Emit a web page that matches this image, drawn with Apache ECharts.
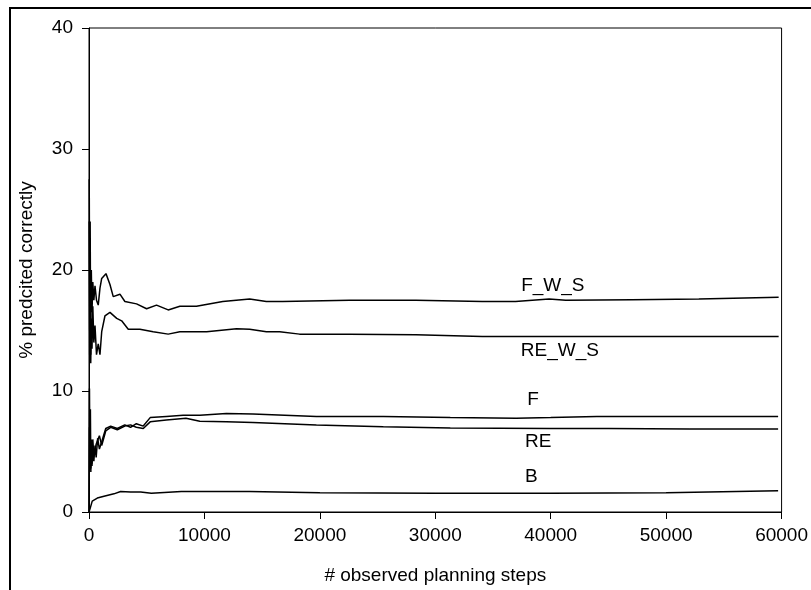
<!DOCTYPE html>
<html>
<head>
<meta charset="utf-8">
<script src="https://cdn.jsdelivr.net/npm/echarts@6/dist/echarts.min.js"></script>
<style>
  html, body { margin: 0; padding: 0; background: #ffffff; }
  #chart { width: 811px; height: 590px; }
</style>
</head>
<body>
<div id="chart"></div>
<script>
// Prediction accuracy (%) against number of observed planning steps, one run per strategy.
const fwsCurve = [
  [20, 27.5], [60, 15], [100, 24], [150, 13], [200, 20], [260, 16.5], [330, 19], [420, 17.5],
  [520, 18.7], [650, 17.5], [800, 17.1], [950, 18.5], [1100, 19.3], [1470, 19.7], [1816, 18.8],
  [2100, 17.8], [2680, 18.0], [3110, 17.4], [4120, 17.2], [4990, 16.8], [5850, 17.1], [6860, 16.7],
  [7870, 17.0], [9310, 17.0], [11590, 17.4], [13920, 17.6], [15360, 17.4], [16770, 17.4],
  [22570, 17.5], [28330, 17.5], [34070, 17.4], [36950, 17.4], [39860, 17.6], [41300, 17.5],
  [47040, 17.55], [52830, 17.6], [59745, 17.75]
];
const rewsCurve = [
  [20, 24], [60, 13], [100, 19], [150, 12.3], [200, 16], [260, 13.5], [330, 17], [420, 14],
  [520, 15.4], [650, 13], [800, 13.9], [950, 13], [1100, 14.9], [1380, 16.2], [1816, 16.5],
  [2400, 16.0], [2830, 15.8], [3400, 15.1], [4410, 15.1], [5560, 14.9], [6860, 14.7], [7870, 14.9],
  [10190, 14.9], [12780, 15.15], [13920, 15.1], [15370, 14.9], [16520, 14.9], [18240, 14.7],
  [22570, 14.7], [28330, 14.65], [34070, 14.5], [39860, 14.5], [50000, 14.5], [59745, 14.5]
];
const fCurve = [
  [10, 0], [40, 10.2], [80, 3.5], [120, 6], [160, 3.6], [200, 5], [260, 4], [330, 5.3], [420, 4.2],
  [520, 5.5], [620, 4.5], [750, 6.1], [900, 5.2], [1100, 5.8], [1450, 6.9], [1880, 7.1], [2450, 6.9],
  [3100, 7.2], [3600, 7.0], [4100, 7.3], [4700, 7.1], [5300, 7.8], [6700, 7.9], [8150, 8.0],
  [9600, 8.0], [11900, 8.15], [14200, 8.1], [19700, 7.9], [25500, 7.9], [31300, 7.8], [37000, 7.75],
  [40000, 7.8], [44000, 7.9], [52000, 7.9], [59700, 7.9]
];
const reCurve = [
  [10, 0], [40, 7], [80, 4], [120, 8.5], [160, 3.3], [200, 6], [260, 3.8], [330, 6], [420, 4.6],
  [520, 5], [620, 5.6], [750, 5.5], [900, 6.3], [1100, 5.5], [1450, 6.7], [1880, 7.0], [2450, 6.8],
  [3100, 7.1], [3600, 7.2], [4100, 7.0], [4700, 6.9], [5300, 7.45], [6700, 7.6], [8400, 7.75],
  [9600, 7.5], [11900, 7.45], [14200, 7.4], [19700, 7.2], [25500, 7.05], [31300, 6.95],
  [39900, 6.9], [45000, 6.9], [52000, 6.85], [59700, 6.85]
];
const bCurve = [
  [0, 0], [100, 0.3], [280, 0.9], [720, 1.15], [1300, 1.3], [2160, 1.5], [2740, 1.7], [3600, 1.65],
  [4480, 1.65], [5400, 1.55], [8000, 1.7], [13900, 1.7], [20000, 1.6], [30000, 1.55], [40000, 1.55],
  [50000, 1.6], [59700, 1.75]
];

const seriesNames = ['F_W_S', 'RE_W_S', 'F', 'RE', 'B'];
const seriesCurves = [fwsCurve, rewsCurve, fCurve, reCurve, bCurve];
// Where each curve's name is written (steps, percent at the text's left middle)
const labelAnchors = [[37440, 18.7], [37410, 13.36], [37960, 9.24], [37780, 5.82], [37780, 2.94]];

const xTicks = [0, 10000, 20000, 30000, 40000, 50000, 60000];
const yTicks = [0, 10, 20, 30, 40];

const FONT = 'Liberation Sans, Arial, sans-serif';
const FS = 19;
const chart = echarts.init(document.getElementById('chart'), null, { renderer: 'canvas' });

const series = seriesNames.map((name, i) => ({
  name: name,
  type: 'line',
  data: seriesCurves[i],
  showSymbol: false,
  symbol: 'none',
  smooth: false,
  animation: false,
  lineStyle: { color: '#000', width: 1.5 },
  markPoint: {
    symbol: 'circle',
    symbolSize: 0,
    animation: false,
    data: [{
      coord: labelAnchors[i],
      label: {
        show: true,
        formatter: name,
        position: 'right',
        distance: 0,
        color: '#000',
        fontFamily: FONT,
        fontSize: FS
      }
    }]
  }
}));

chart.setOption({
  backgroundColor: '#ffffff',
  animation: false,
  grid: {
    left: 89, top: 28, right: 27, bottom: 76,
    show: true, borderColor: '#000', borderWidth: 1, backgroundColor: 'transparent'
  },
  xAxis: {
    type: 'value',
    min: xTicks[0], max: xTicks[xTicks.length - 1], interval: 10000,
    name: '# observed planning steps',
    nameLocation: 'middle',
    nameGap: 54,
    nameTextStyle: { color: '#000', fontFamily: FONT, fontSize: FS },
    axisLine: { lineStyle: { color: '#000', width: 1 } },
    axisTick: { show: true, length: 7, inside: false, lineStyle: { color: '#000' } },
    axisLabel: { color: '#000', fontFamily: FONT, fontSize: FS, margin: 14, formatter: v => String(v) },
    splitLine: { show: false }
  },
  yAxis: {
    type: 'value',
    min: yTicks[0], max: yTicks[yTicks.length - 1], interval: 10,
    name: '% predcited correctly',
    nameLocation: 'middle',
    nameGap: 53,
    nameRotate: 90,
    nameTextStyle: { color: '#000', fontFamily: FONT, fontSize: FS },
    axisLine: { show: true, lineStyle: { color: '#000', width: 1 } },
    axisTick: { show: true, length: 7, inside: false, lineStyle: { color: '#000' } },
    axisLabel: { color: '#000', fontFamily: FONT, fontSize: FS, margin: 16 },
    splitLine: { show: false }
  },
  graphic: [
    { type: 'line', shape: { x1: 9, y1: 8, x2: 811, y2: 8 }, style: { stroke: '#000', lineWidth: 2 } },
    { type: 'line', shape: { x1: 10, y1: 7, x2: 10, y2: 590 }, style: { stroke: '#000', lineWidth: 2 } }
  ],
  series: series
});
</script>
</body>
</html>
